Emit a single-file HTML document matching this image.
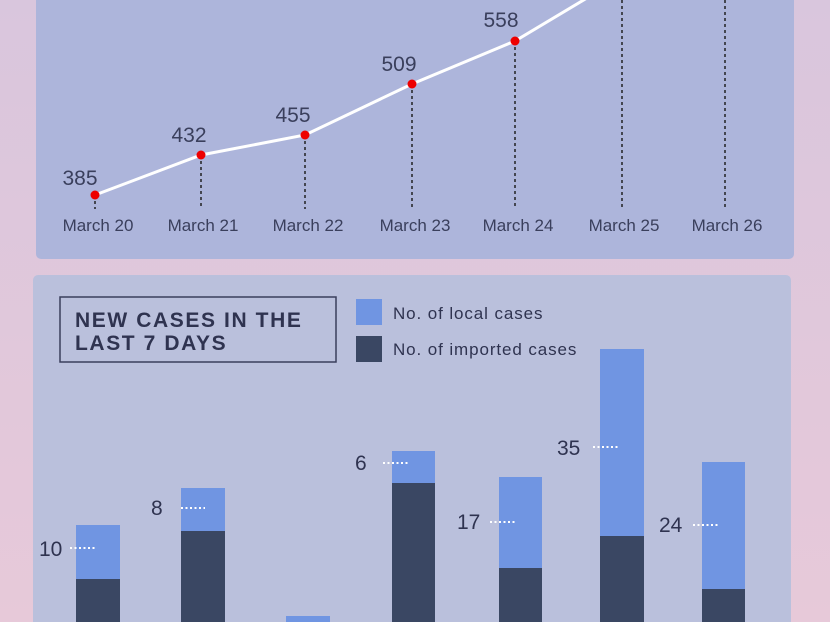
<!DOCTYPE html><html><head><style>
body{margin:0;width:830px;height:622px;overflow:hidden;background:linear-gradient(#d9c6dd,#e7c9d9);font-family:"Liberation Sans",sans-serif}
</style></head><body>
<svg width="830" height="622" style="position:absolute;left:0;top:0">
<rect x="36" y="-10" width="758" height="269" rx="5" fill="#adb5db"/>
<rect x="33" y="275" width="758" height="360" rx="5" fill="#bac0dc"/>
<g stroke="#222" stroke-width="1.5" stroke-dasharray="3,3">
<line x1="95" y1="195" x2="95" y2="209"/><line x1="201" y1="155" x2="201" y2="209"/><line x1="305" y1="135" x2="305" y2="209"/><line x1="412" y1="84" x2="412" y2="209"/><line x1="515" y1="41" x2="515" y2="209"/><line x1="622" y1="0" x2="622" y2="209"/><line x1="725" y1="0" x2="725" y2="209"/>
</g>
<polyline points="95,195 201,155 305,135 412,84 515,41 592,-5" fill="none" stroke="#fff" stroke-width="3"/>
<g fill="#e00"><circle cx="95" cy="195" r="4.5"/><circle cx="201" cy="155" r="4.5"/><circle cx="305" cy="135" r="4.5"/><circle cx="412" cy="84" r="4.5"/><circle cx="515" cy="41" r="4.5"/></g>
<g fill="#3a3f5c" font-size="21" text-anchor="middle">
<text x="80" y="185">385</text><text x="189" y="142">432</text><text x="293" y="122">455</text><text x="399" y="71">509</text><text x="501" y="27">558</text></g>
<g fill="#3a3f5c" font-size="17" text-anchor="middle">
<text x="98" y="231">March 20</text><text x="203" y="231">March 21</text><text x="308" y="231">March 22</text><text x="415" y="231">March 23</text><text x="518" y="231">March 24</text><text x="624" y="231">March 25</text><text x="727" y="231">March 26</text></g>
<rect x="60" y="297" width="276" height="65" fill="none" stroke="#3a3f5c" stroke-width="1.5"/>
<g fill="#2f3350" font-size="21" font-weight="bold" letter-spacing="1.6"><text x="75" y="327">NEW CASES IN THE</text><text x="75" y="350">LAST 7 DAYS</text></g>
<rect x="356" y="299" width="26" height="26" fill="#7095e2"/><rect x="356" y="336" width="26" height="26" fill="#3a4763"/>
<g fill="#2f3350" font-size="17" letter-spacing="0.9"><text x="393" y="319">No. of local cases</text><text x="393" y="355">No. of imported cases</text></g>
<g fill="#7095e2"><rect x="76" y="525" width="44" height="100"/><rect x="181" y="488" width="44" height="140"/><rect x="286" y="616" width="44" height="10"/><rect x="392" y="451" width="43" height="180"/><rect x="499" y="477" width="43" height="150"/><rect x="600" y="349" width="44" height="280"/><rect x="702" y="462" width="43" height="170"/></g>
<g fill="#3a4763"><rect x="76" y="579" width="44" height="50"/><rect x="181" y="531" width="44" height="100"/><rect x="392" y="483" width="43" height="150"/><rect x="499" y="568" width="43" height="60"/><rect x="600" y="536" width="44" height="90"/><rect x="702" y="589" width="43" height="40"/></g>
<g fill="#2f3350" font-size="21"><text x="39" y="556">10</text><text x="151" y="515">8</text><text x="355" y="470">6</text><text x="457" y="529">17</text><text x="557" y="455">35</text><text x="659" y="532">24</text></g>
<g stroke="#fff" stroke-width="2" stroke-dasharray="2,2.5"><line x1="70" y1="548" x2="96" y2="548"/><line x1="181" y1="508" x2="205" y2="508"/><line x1="383" y1="463" x2="408" y2="463"/><line x1="490" y1="522" x2="515" y2="522"/><line x1="593" y1="447" x2="618" y2="447"/><line x1="693" y1="525" x2="718" y2="525"/></g>
</svg></body></html>
